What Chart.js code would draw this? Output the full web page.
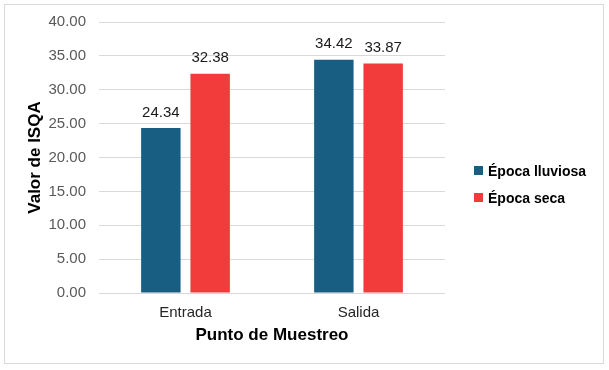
<!DOCTYPE html>
<html>
<head>
<meta charset="utf-8">
<script src="https://cdn.jsdelivr.net/npm/chart.js@4"></script>
<style>
  body { margin: 0; background: #fff; font-family: "Liberation Sans", Arial, sans-serif; }
  #wrap { position: absolute; left: 4px; top: 4px; width: 598px; height: 358px; border: 1px solid #d9d9d9; }
  #legend { position: absolute; left: 469px; top: 158px; font-weight: bold; font-size: 14px; color: #000; }
  #legend div { height: 27px; line-height: 16px; }
  #legend span { display: inline-block; width: 9px; height: 9px; margin-right: 5px; vertical-align: 1px; }
</style>
</head>
<body>
<div id="wrap">
  <canvas id="graph" width="598" height="358"></canvas>
  <div id="legend"></div>
</div>
<script>
// datos
var puntos = ["Entrada", "Salida"];
var lluviosa = [24.34, 34.42];
var seca = [32.38, 33.87];
var nombres = ["Época lluviosa", "Época seca"];
var colores = ["#175e82", "#f23c3c"];

// etiquetas encima de las barras
var etiquetas = {
  id: "etiquetas",
  afterDatasetsDraw: function (chart) {
    var ctx = chart.ctx;
    ctx.save();
    ctx.font = "15px 'Liberation Sans', Arial, sans-serif";
    ctx.fillStyle = "#1a1a1a";
    ctx.textAlign = "center";
    ctx.textBaseline = "bottom";
    chart.data.datasets.forEach(function (ds, i) {
      chart.getDatasetMeta(i).data.forEach(function (bar, j) {
        ctx.fillText(ds.data[j].toFixed(2), bar.x, bar.y - 8);
      });
    });
    ctx.restore();
  }
};

var chart = document.getElementById("graph").getContext("2d");
var graph = new Chart(chart, {
  type: "bar",
  data: {
    labels: puntos,
    datasets: [
      { label: nombres[0], data: lluviosa, backgroundColor: colores[0] },
      { label: nombres[1], data: seca, backgroundColor: colores[1] },
    ],
  },
  options: {
    responsive: false,
    animation: false,
    layout: {
      padding: { left: 0, right: 158, top: 17, bottom: 0 },
    },
    categoryPercentage: 0.57,
    barPercentage: 0.8,
    plugins: {
      legend: { display: false },
      tooltip: { enabled: false },
    },
    scales: {
      x: {
        grid: { display: false },
        border: { display: false },
        ticks: {
          color: "#262626",
          padding: 3,
          font: { size: 15, family: "'Liberation Sans', Arial, sans-serif" },
        },
        title: {
          display: true,
          text: "Punto de Muestreo",
          color: "#000",
          padding: { top: 0, bottom: 17 },
          font: { size: 17, weight: "bold", family: "'Liberation Sans', Arial, sans-serif" },
        },
        afterFit: function (s) { s.height = 70; s.paddingLeft = 0; s.paddingRight = 0; },
      },
      y: {
        min: 0,
        max: 40,
        ticks: {
          stepSize: 5,
          color: "#595959",
          padding: 13,
          font: { size: 15, family: "'Liberation Sans', Arial, sans-serif" },
          callback: function (v) { return v.toFixed(2); },
        },
        grid: { color: "#d9d9d9", drawTicks: false },
        border: { display: false },
        title: {
          display: true,
          text: "Valor de ISQA",
          color: "#000",
          padding: { top: 20, bottom: 0 },
          font: { size: 17, weight: "bold", family: "'Liberation Sans', Arial, sans-serif" },
        },
        afterFit: function (s) { s.width = 94; s.paddingTop = 0; s.paddingBottom = 0; },
      },
    },
  },
  plugins: [etiquetas],
});

// leyenda
var leyenda = document.getElementById("legend");
nombres.forEach(function (n, i) {
  var d = document.createElement("div");
  d.innerHTML = '<span style="background:' + colores[i] + '"></span>' + n;
  leyenda.appendChild(d);
});
</script>
</body>
</html>
